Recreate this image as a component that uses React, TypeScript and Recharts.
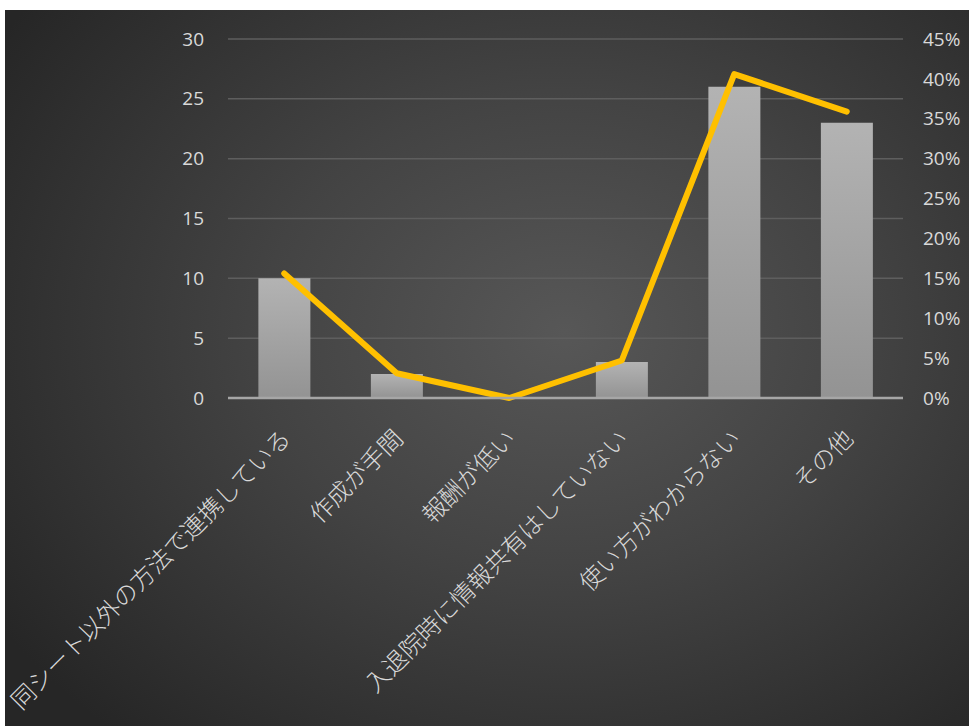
import { ComposedChart, Bar, Line, XAxis, YAxis, CartesianGrid } from "recharts";

const categories = [
  "同シート以外の方法で連携している",
  "作成が手間",
  "報酬が低い",
  "入退院時に情報共有はしていない",
  "使い方がわからない",
  "その他",
];
const counts = [10, 2, 0, 3, 26, 23];
const shares = [15.6, 3.1, 0, 4.7, 40.6, 35.9];
const countTicks = [0, 5, 10, 15, 20, 25, 30];
const shareTicks = [0, 5, 10, 15, 20, 25, 30, 35, 40, 45];

const data = categories.map((name, i) => ({
  name,
  count: counts[i],
  share: shares[i],
}));

const TEXT = "#d9d9d9";
const NUM_FONT = "'Open Sans', 'Noto Sans', sans-serif";
const JP_FONT = "'Noto Sans CJK JP', sans-serif";

function LeftTick(props: any) {
  const { x, y, payload } = props;
  return (
    <text x={x - 16} y={y} dy="0.35em" textAnchor="end" fill={TEXT} fontSize={19} fontFamily={NUM_FONT}>
      {payload.value}
    </text>
  );
}

function RightTick(props: any) {
  const { x, y, payload } = props;
  return (
    <text x={x + 12} y={y} dy="0.35em" textAnchor="start" fill={TEXT} fontSize={19} fontFamily={NUM_FONT}>
      {payload.value}%
    </text>
  );
}

function CatTick(props: any) {
  const { x, y, payload } = props;
  const px = x + 8;
  const py = y + 34;
  return (
    <text
      x={px}
      y={py}
      textAnchor="end"
      fill={TEXT}
      fontSize={24}
      fontFamily={JP_FONT}
      fontWeight={300}
      transform={`rotate(-45 ${px} ${py})`}
    >
      {payload.value}
    </text>
  );
}

export default function App() {
  return (
    <div style={{ position: "absolute", left: 0, top: 0, width: 969, height: 726, background: "#fff" }}>
      <div
        style={{
          position: "absolute",
          left: 5,
          top: 10,
          right: 0,
          bottom: 0,
          background: "radial-gradient(ellipse 70% 75% at 58% 45%, #575757 0%, #434343 45%, #262626 100%)",
        }}
      />
      <div style={{ position: "absolute", left: 0, top: 0 }}>
        <ComposedChart width={969} height={726} data={data} margin={{ top: 39, right: 0, bottom: 0, left: 0 }} barCategoryGap="27%">
          <defs>
            <linearGradient id="barFill" x1="0" y1="0" x2="0" y2="1">
              <stop offset="0%" stopColor="#b3b3b3" />
              <stop offset="100%" stopColor="#939393" />
            </linearGradient>
          </defs>
          <CartesianGrid yAxisId="left" vertical={false} stroke="#5e5e5e" strokeWidth={1.5} />
          <XAxis
            dataKey="name"
            height={328}
            interval={0}
            tickLine={false}
            axisLine={{ stroke: "#a6a6a6", strokeWidth: 2.5 }}
            tick={<CatTick />}
          />
          <YAxis
            yAxisId="left"
            width={228}
            domain={[0, 30]}
            ticks={countTicks}
            axisLine={false}
            tickLine={false}
            tick={<LeftTick />}
          />
          <YAxis
            yAxisId="right"
            orientation="right"
            width={66}
            domain={[0, 45]}
            ticks={shareTicks}
            axisLine={false}
            tickLine={false}
            tick={<RightTick />}
          />
          <Bar yAxisId="left" dataKey="count" fill="url(#barFill)" isAnimationActive={false} />
          <Line
            yAxisId="right"
            dataKey="share"
            stroke="#ffc000"
            strokeWidth={6}
            strokeLinecap="round"
            strokeLinejoin="round"
            dot={false}
            activeDot={false}
            isAnimationActive={false}
          />
        </ComposedChart>
      </div>
    </div>
  );
}
